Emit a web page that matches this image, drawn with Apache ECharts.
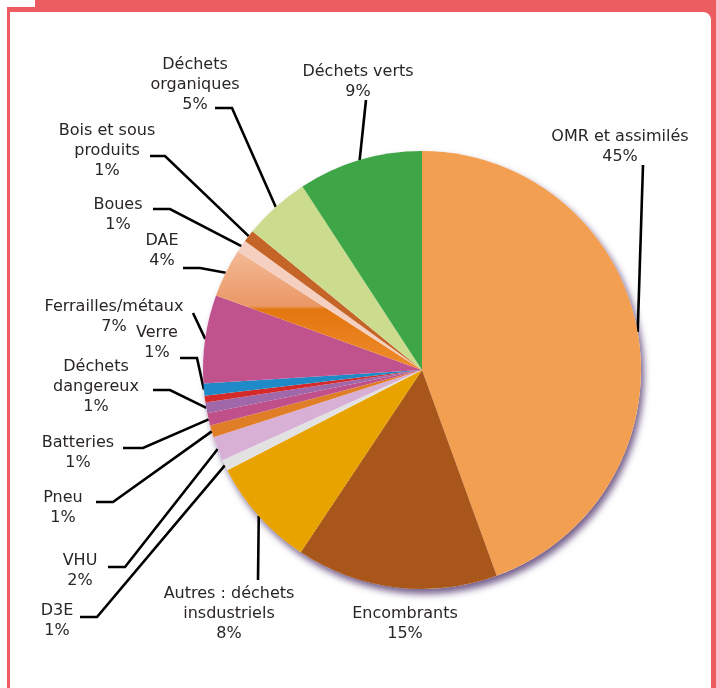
<!DOCTYPE html>
<html>
<head>
<meta charset="utf-8">
<script src="https://cdn.jsdelivr.net/npm/echarts@6/dist/echarts.min.js"></script>
<style>
  html, body { margin: 0; padding: 0; background: #fff; }
  #chart { width: 716px; height: 688px; }
</style>
</head>
<body>
<div id="chart"></div>
<script>
// slices, clockwise from 12 o'clock
var categories = [
  'OMR et assimilés', 'Encombrants', 'Autres : déchets\ninsdustriels', 'D3E', 'VHU', 'Pneu',
  'Batteries', 'Déchets\ndangereux', '', 'Verre', 'Ferrailles/métaux', 'DAE', 'Boues',
  'Bois et sous\nproduits', 'Déchets\norganiques', 'Déchets verts'
]
var values = [44.5, 14.9, 8.1, 0.8, 1.8, 0.9, 0.9, 0.8, 0.5, 0.9, 6.5, 3.6, 0.9, 0.9, 4.9, 9.2]

var colors = [
  '#F39F52', '#A8561A', '#E8A300', '#E2E2E2', '#D8B0D6', '#E07E28', '#C0508A', '#A068A8',
  '#D42A2A', '#1E8BC8', '#C0528E', 'dae', '#F5D0C0', '#C46426', '#CCDC8E', '#3EA646'
]

// label placement: text centre, then knee / end of the leader line (null = none)
var labelSpots = [
  { x: 620, y: 147, knee: null, end: [643, 165] },
  { x: 405, y: 624, knee: null, end: null },
  { x: 229, y: 614, knee: null, end: [258, 580] },
  { x: 57, y: 621, knee: [97, 617], end: [80, 617] },
  { x: 80, y: 571, knee: [125, 567], end: [108, 567] },
  { x: 63, y: 508, knee: [113, 502], end: [96, 502] },
  { x: 78, y: 453, knee: [143, 448], end: [123, 448] },
  { x: 96, y: 387, knee: [170, 390], end: [153, 390] },
  null,
  { x: 157, y: 343, knee: [197, 358], end: [180, 358] },
  { x: 114, y: 317, knee: null, end: [193, 313] },
  { x: 162, y: 251, knee: [200, 268], end: [183, 268] },
  { x: 118, y: 215, knee: [170, 209], end: [153, 209] },
  { x: 107, y: 151, knee: [165, 156], end: [150, 156] },
  { x: 195, y: 85, knee: [232, 108], end: [215, 108] },
  { x: 358, y: 82, knee: null, end: [366, 100] }
]

var daeFill = new echarts.graphic.LinearGradient(0, 0, 0, 1, [
  { offset: 0, color: '#F4B996' },
  { offset: 0.46, color: '#EA9866' },
  { offset: 0.49, color: '#E3760F' },
  { offset: 1, color: '#EF8C2E' }
])

var pieData = categories.map(function (name, i) {
  var item = {
    name: name,
    value: values[i],
    itemStyle: { color: colors[i] === 'dae' ? daeFill : colors[i] }
  }
  if (!labelSpots[i]) {
    item.label = { show: false }
    item.labelLine = { show: false }
  } else if (!labelSpots[i].end) {
    item.labelLine = { show: false }
  }
  return item
})

var chart = echarts.init(document.getElementById('chart'))

chart.setOption({
  animation: false,
  graphic: [
    { type: 'rect', z: -10, shape: { x: 7, y: 7, width: 709, height: 681 }, style: { fill: '#EB5D60' } },
    { type: 'rect', z: -10, shape: { x: 35, y: 0, width: 681, height: 12 }, style: { fill: '#EB5D60' } },
    { type: 'rect', z: -9, shape: { x: 10, y: 12, width: 701, height: 676, r: [0, 8, 0, 0] }, style: { fill: '#fff' } }
  ],
  series: [
    {
      // drop shadow under the disc
      type: 'pie',
      silent: true,
      z: 1,
      center: [422, 370],
      radius: 219,
      label: { show: false },
      labelLine: { show: false },
      itemStyle: {
        color: '#fff',
        shadowBlur: 7,
        shadowOffsetX: 3,
        shadowOffsetY: 5,
        shadowColor: 'rgba(70, 40, 100, 0.75)'
      },
      data: [{ value: 1 }]
    },
    {
      type: 'pie',
      z: 2,
      center: [422, 370],
      radius: 219,
      startAngle: 90,
      clockwise: true,
      avoidLabelOverlap: false,
      itemStyle: { borderWidth: 0 },
      emphasis: { disabled: true },
      label: {
        show: true,
        position: 'outside',
        fontFamily: 'DejaVu Sans',
        fontSize: 16,
        lineHeight: 20,
        color: '#2a2526',
        align: 'center',
        formatter: function (p) {
          return p.name + '\n' + Math.round(p.value) + '%'
        }
      },
      labelLine: {
        show: true,
        lineStyle: { color: '#000', width: 2.6 }
      },
      labelLayout: function (params) {
        var s = labelSpots[params.dataIndex]
        if (!s) return {}
        var out = { x: s.x, y: s.y, align: 'center', verticalAlign: 'middle' }
        if (s.end && params.labelLinePoints) {
          var start = params.labelLinePoints[0]
          var knee = s.knee || s.end
          out.labelLinePoints = [[start[0], start[1]], knee, s.end]
        }
        return out
      },
      data: pieData
    }
  ]
})
</script>
</body>
</html>
